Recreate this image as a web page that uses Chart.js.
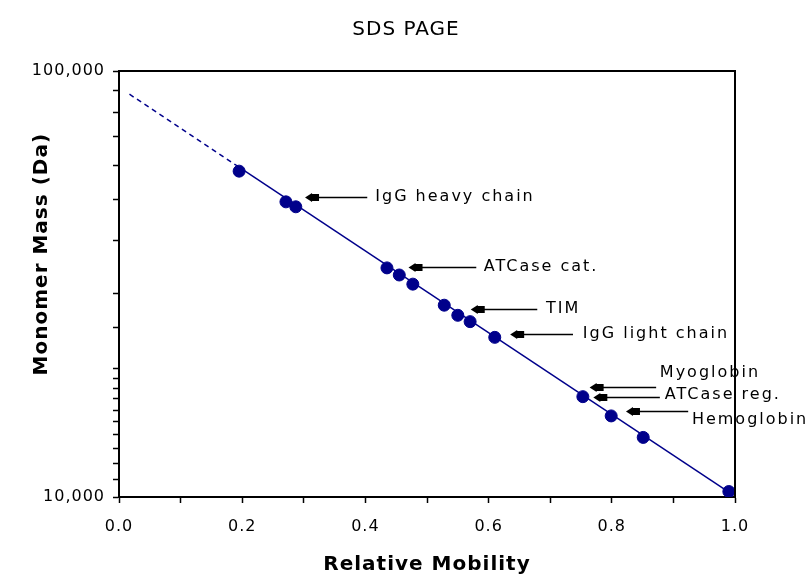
<!DOCTYPE html>
<html>
<head>
<meta charset="utf-8">
<script src="https://cdn.jsdelivr.net/npm/chart.js@4/dist/chart.umd.min.js"></script>
<style>
  html, body { margin: 0; padding: 0; background: #fff; }
  #wrap { width: 812px; height: 579px; }
</style>
</head>
<body>
<div id="wrap"><canvas id="sds"></canvas></div>
<script>
// marker bands: relative mobility vs monomer mass (Da)
const mobility = [0.195, 0.271, 0.287, 0.435, 0.455, 0.477, 0.528, 0.550, 0.570, 0.610, 0.753, 0.799, 0.851, 0.990];
const mass = [58200, 49300, 48000, 34500, 33200, 31600, 28200, 26700, 25800, 23700, 17200, 15500, 13800, 10300];

// standard curve as drawn; first piece is the dashed extrapolation
const fitMobility = [0.017, 0.19, 0.99];
const fitMass = [88200, 60100, 10270];

// arrow labels
const annLabels = ['IgG heavy chain', 'ATCase cat.', 'TIM', 'IgG light chain', 'Myoglobin', 'ATCase reg.', 'Hemoglobin'];
const annTip = [0.302, 0.470, 0.571, 0.635, 0.764, 0.770, 0.823];
const annTail = [0.403, 0.580, 0.679, 0.737, 0.872, 0.878, 0.924];
const annMass = [50700, 34700, 27600, 24100, 18150, 17150, 15900];
const annTextX = [0.416, 0.592, 0.693, 0.753, 0.878, 0.886, 0.930];
const annTextMass = [50700, 34700, 27600, 24100, 19550, 17350, 15150];

const yLabelled = [10000, 100000];

const navy = '#00008b';

const spacing = {
  id: 'spacing',
  beforeDraw(chart) {
    chart.ctx.letterSpacing = '1px';
  }
};

// top/right frame and the y axis title (sits above centre in the original)
const frame = {
  id: 'frame',
  afterDraw(chart) {
    const {ctx, chartArea: a} = chart;
    ctx.save();
    ctx.strokeStyle = '#000';
    ctx.lineWidth = 2;
    ctx.beginPath();
    ctx.moveTo(a.left, a.top);
    ctx.lineTo(a.right, a.top);
    ctx.lineTo(a.right, a.bottom);
    ctx.stroke();

    ctx.translate(42, a.top + (a.bottom - a.top) * 0.43);
    ctx.rotate(-Math.PI / 2);
    ctx.font = 'bold 20px "DejaVu Sans"';
    ctx.letterSpacing = '1px';
    ctx.textAlign = 'center';
    ctx.textBaseline = 'middle';
    ctx.fillStyle = '#000';
    ctx.fillText('Monomer Mass (Da)', 0, 0);
    ctx.restore();
  }
};

const arrowLabels = {
  id: 'arrowLabels',
  afterDatasetsDraw(chart) {
    const {ctx, scales: {x, y}} = chart;
    ctx.save();
    ctx.strokeStyle = '#000';
    ctx.fillStyle = '#000';
    ctx.lineWidth = 1.5;
    ctx.font = '16px "DejaVu Sans"';
    ctx.letterSpacing = '2px';
    ctx.textBaseline = 'middle';
    ctx.textAlign = 'left';
    annLabels.forEach((txt, i) => {
      const tx = x.getPixelForValue(annTip[i]);
      const ty = Math.round(y.getPixelForValue(annMass[i])) + 0.5;
      const ex = x.getPixelForValue(annTail[i]);
      ctx.beginPath();
      ctx.moveTo(tx + 8, ty);
      ctx.lineTo(ex, ty);
      ctx.stroke();
      ctx.beginPath();
      ctx.moveTo(tx, ty);
      ctx.lineTo(tx + 7, ty - 4.5);
      ctx.lineTo(tx + 7, ty + 4.5);
      ctx.closePath();
      ctx.fill();
      ctx.fillRect(tx + 6, ty - 3.5, 8, 7);
      ctx.fillText(txt, x.getPixelForValue(annTextX[i]), y.getPixelForValue(annTextMass[i]));
    });
    ctx.restore();
  }
};

new Chart(document.getElementById('sds'), {
  type: 'scatter',
  data: {
    datasets: [
      {
        data: mobility.map((m, i) => ({x: m, y: mass[i]})),
        backgroundColor: navy,
        borderColor: navy,
        pointRadius: 6,
        pointHoverRadius: 6,
        order: 0,
      },
      {
        data: fitMobility.map((m, i) => ({x: m, y: fitMass[i]})),
        showLine: true,
        borderColor: navy,
        borderWidth: 1.5,
        pointRadius: 0,
        segment: {
          borderDash: ctx => ctx.p0DataIndex === 0 ? [5, 4] : undefined,
        },
        order: 1,
      },
    ],
  },
  options: {
    responsive: true,
    maintainAspectRatio: false,
    animation: false,
    events: [],
    plugins: {
      legend: { display: false },
      tooltip: { enabled: false },
      title: {
        display: true,
        text: 'SDS PAGE',
        color: '#000',
        font: { family: 'DejaVu Sans', size: 20, weight: 'normal' },
        padding: { top: 18, bottom: 29 },
      },
    },
    scales: {
      x: {
        type: 'linear',
        min: 0,
        max: 1,
        afterFit: s => { s.height = 82; },
        ticks: {
          stepSize: 0.1,
          autoSkip: false,
          maxRotation: 0,
          color: '#000',
          padding: 14,
          font: { family: 'DejaVu Sans', size: 16 },
          callback: (v, i) => i % 2 === 0 ? v.toFixed(1) : '',
        },
        grid: { drawOnChartArea: false, drawTicks: true, tickLength: 6, tickColor: '#000', tickWidth: 1.5 },
        border: { display: true, color: '#000', width: 2 },
        title: {
          display: true,
          text: 'Relative Mobility',
          color: '#000',
          font: { family: 'DejaVu Sans', size: 20, weight: 'bold' },
          padding: { top: 0, bottom: 2 },
        },
      },
      y: {
        type: 'logarithmic',
        min: 10000,
        max: 100000,
        afterFit: s => { s.width = 119; },
        ticks: {
          autoSkip: false,
          color: '#000',
          padding: 8,
          font: { family: 'DejaVu Sans', size: 16 },
          callback: v => yLabelled.includes(v) ? v.toLocaleString('en-US') : '',
        },
        grid: { drawOnChartArea: false, drawTicks: true, tickLength: 6, tickColor: '#000', tickWidth: 1.5 },
        border: { display: true, color: '#000', width: 2 },
      },
      // empty right-hand strip that holds the overflowing labels
      yRight: {
        position: 'right',
        display: true,
        afterFit: s => { s.width = 77; },
        ticks: { display: false },
        grid: { display: false, drawTicks: false },
        border: { display: false },
      },
    },
  },
  plugins: [spacing, frame, arrowLabels],
});
</script>
</body>
</html>
